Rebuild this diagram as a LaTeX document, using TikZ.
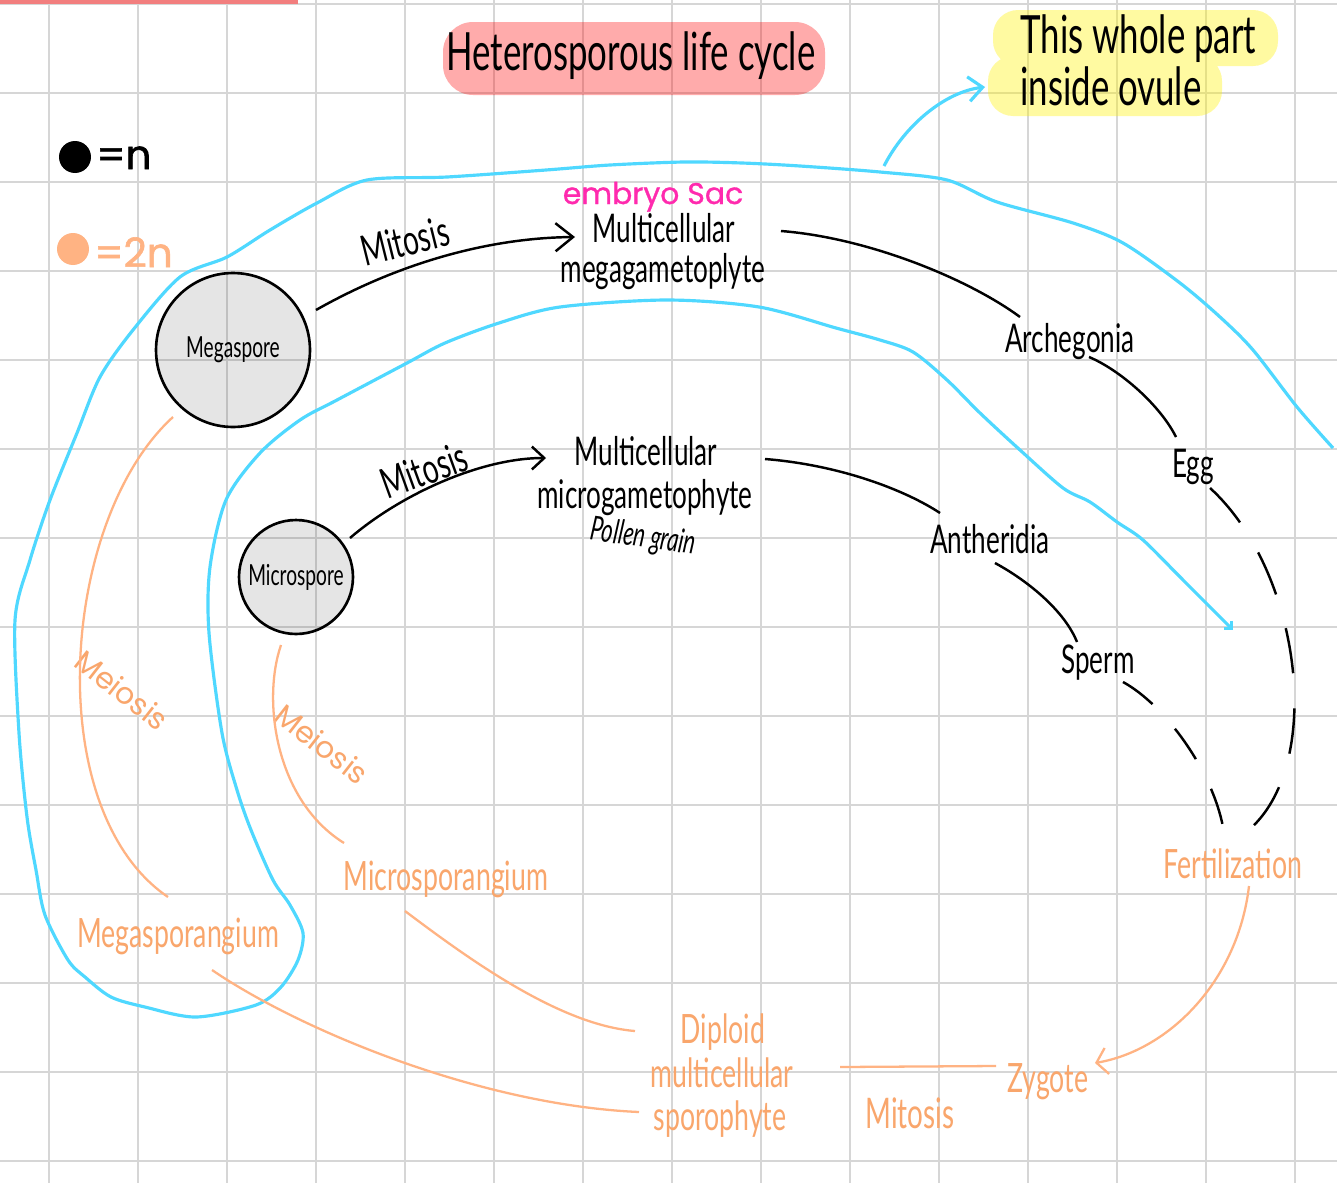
\documentclass[tikz,border=0pt]{standalone}
\usepackage{fontspec}
\setmainfont{Lato}[FakeStretch=0.66]
\newfontfamily\handfnt{Poppins}
\newfontfamily\markfnt{Poppins}[FakeBold=1.5]
\newfontfamily\sacfnt{Poppins}[FakeBold=1]
\usetikzlibrary{calc,arrows.meta}
\definecolor{gridgray}{HTML}{D6D6D6}
\definecolor{skyline}{HTML}{4FD8FF}
\definecolor{peach}{HTML}{FFB383}
\definecolor{peachtxt}{HTML}{F9A66C}
\definecolor{sacpink}{HTML}{FF2AAE}
\definecolor{edgered}{HTML}{F27E7E}
\newcommand\titlefnt{\fontsize{30}{34}\selectfont}
\newcommand\midfnt{\fontsize{22.5}{26}\selectfont}
\newcommand\sporefnt{\fontsize{16.5}{19}\selectfont}
\newcommand\orfnt{\fontsize{23}{26}\selectfont}
\newcommand\meifnt{\handfnt\fontsize{17}{20}\selectfont}
\tikzset{>={Straight Barb[length=10pt,width=16pt]}}
\tikzset{
  gridline/.style={draw=gridgray, line width=1.6pt},
  spore/.style={circle, draw, line width=1.5pt, fill=black, fill opacity=0.1,
                text opacity=1, font=\sporefnt, inner sep=0pt},
  lbl/.style={font=\midfnt, inner sep=0pt, anchor=base},
  olbl/.style={font=\orfnt, text=peachtxt, inner sep=0pt, anchor=base},
  blk/.style={line width=1.4pt},
  orn/.style={draw=peach, line width=1.3pt},
  blu/.style={draw=skyline, line width=1.8pt},
  gapline/.style={dash pattern=on 26pt off 20pt},
}

\begin{document}
\begin{tikzpicture}[x=0.02cm,y=-0.02cm]
  \fill[white] (0,0) rectangle (1337,1183);
  \useasboundingbox (0,0) rectangle (1337,1183);
  % 方格纸
  \foreach \gx in {49,138,...,1295}
    \draw[gridline] (\gx,0) -- (\gx,1183);
  \foreach \gy in {4,93,...,1161}
    \draw[gridline] (0,\gy) -- (1337,\gy);
  \draw[edgered, line width=2.3pt] (0,2) -- (296,2) -- (296,-5);

  % 高亮底色
  \fill[red, fill opacity=0.33, rounded corners=0.6cm] (443,22) rectangle (825,95);
  \fill[yellow, fill opacity=0.37, rounded corners=0.5cm]
       (993,10) rectangle (1278,66) (988,56) rectangle (1222,116);

  % 蓝色圈线 (胚珠内部)
  \draw[blu, -{Straight Barb[length=3pt,width=6pt]}] plot[smooth, tension=0.5] coordinates {
    (1333,448) (1297,407) (1253,350) (1220,317) (1180,283) (1123,243) (1073,223)
    (997,202) (947,180) (880,172) (800,166) (742,163) (684,162) (610,165) (546,170)
    (447,177) (367,180) (317,203) (270,230) (227,257) (180,277) (133,330) (100,377)
    (77,433) (50,500) (30,560) (15,620) (19,733) (27,817) (36,870) (45,915)
    (68,960) (85,977) (111,997) (145,1007) (196,1017) (256,1005) (281,987)
    (298,960) (303,933) (290,905) (273,880) (251,830) (237,790) (222,733)
    (209,633) (210,567) (226,500) (260,453) (300,420) (337,400) (407,363)
    (445,343) (499,323) (560,307) (667,300) (759,307) (836,328) (880,340)
    (913,352) (947,380) (980,413) (1020,450) (1063,488) (1090,502) (1117,522)
    (1143,540) (1183,580) (1233,630)};
  \coordinate (looptop) at (884,166);

  % 文字
  \node[font=\titlefnt, inner sep=0pt, anchor=base] (title) at (631,70) {Heterosporous life cycle};
  \node[font=\titlefnt, inner sep=0pt, anchor=base west] (ovuleA) at (1020,53) {This whole part};
  \node[font=\titlefnt, inner sep=0pt, anchor=base west] (ovuleB) at (1020,105) {inside ovule};

  \node[circle, fill, minimum size=0.64cm, inner sep=0pt] (ndot) at (75,157) {};
  \node[font=\markfnt\fontsize{23}{26}\selectfont, inner sep=0pt, anchor=base west] (nkey) at (96,169) {=n};
  \node[circle, fill=peach, minimum size=0.64cm, inner sep=0pt] (dndot) at (73,249) {};
  \node[font=\markfnt\fontsize{23}{26}\selectfont, text=peach, inner sep=0pt, anchor=base west] (dnkey) at (94,267) {=2n};

  \node[spore, minimum size=3.08cm] (megaspore) at (233,350) {Megaspore};
  \node[spore, minimum size=2.28cm] (microspore) at (296,577) {Microspore};

  \node[font=\sacfnt\fontsize{17}{20}\selectfont, text=sacpink, inner sep=0pt, anchor=base] (sac) at (653,204) {embryo Sac};
  \node[lbl] (megagam) at (664,242) {Multicellular};
  \node[lbl] (megagamb) at (663,282) {megagametoplyte};
  \node[lbl] (archeg) at (1070,352) {Archegonia};
  \node[lbl] (egg) at (1193,477) {Egg};
  \node[lbl] (microgam) at (646,465) {Multicellular};
  \node[lbl] (microgamb) at (645,508) {microgametophyte};
  \node[font=\itshape\fontsize{19}{22}\selectfont, rotate=-8, inner sep=0pt] (pollen) at (643,538) {Pollen grain};
  \node[lbl] (antherid) at (990,553) {Antheridia};
  \node[lbl] (sperm) at (1098,673) {Sperm};
  \node[font=\fontsize{24}{28}\selectfont, rotate=14, inner sep=0pt] (mitA) at (405,241) {Mitosis};
  \node[font=\fontsize{24}{28}\selectfont, rotate=20, inner sep=0pt] (mitB) at (424,470) {Mitosis};

  \node[olbl] (fert) at (1233,878) {Fertilization};
  \node[olbl] (zygote) at (1048,1092) {Zygote};
  \node[olbl] (sporoA) at (723,1043) {Diploid};
  \node[olbl] (sporoB) at (722,1087) {multicellular};
  \node[olbl] (sporoC) at (720,1130) {sporophyte};
  \node[olbl, font=\fontsize{24}{28}\selectfont] (mitC) at (910,1128) {Mitosis};
  \node[olbl] (microsp) at (446,890) {Microsporangium};
  \node[olbl] (megasp) at (178,947) {Megasporangium};
  \node[font=\meifnt, text=peachtxt, rotate=-38, inner sep=0pt] (meiA) at (122,690) {Meiosis};
  \node[font=\meifnt, text=peachtxt, rotate=-38, inner sep=0pt] (meiB) at (322,744) {Meiosis};

  % 连线
  \draw[blu, -{Straight Barb[length=8pt,width=14pt]}] (looptop) .. controls +(21,-41) and +(-40,5) .. ($(ovuleA.base west)+(-35,34)$);
  \draw[blk,->] ($(megaspore.center)+(83,-40)$) .. controls +(74,-42) and +(-95,1) .. ($(megagam.base)+(-89,-5)$);
  \draw[blk] ($(megagam.base)+(117,-11)$) .. controls +(89,7) and +(-50,-37) .. ($(archeg.base)+(-50,-35)$);
  \draw[blk] ($(archeg.base)+(19,5)$) .. controls +(31,13) and +(-16,-32) .. ($(egg.base)+(-17,-40)$);
  \draw[blk,gapline] ($(egg.base)+(17,11)$) .. controls +(90,82) and +(74,-68) .. ($(fert.base)+(18,-50)$);
  \draw[blk,-{Straight Barb[length=7pt,width=13pt]}] ($(microspore.center)+(54,-39)$) .. controls +(50,-43) and +(-66,0) .. ($(microgam.base)+(-100,-7)$);
  \draw[blk] ($(microgam.base)+(119,-6)$) .. controls +(75,6) and +(-35,-23) .. ($(antherid.base)+(-50,-40)$);
  \draw[blk] ($(antherid.base)+(5,10)$) .. controls +(35,19) and +(-12,-30) .. ($(sperm.base)+(-21,-31)$);
  \draw[blk,dash pattern=on 21pt off 19pt] ($(sperm.base)+(25,9)$) .. controls +(42,23) and +(-11,-57) .. ($(fert.base)+(-10,-51)$);

  \draw[orn,-{Straight Barb[length=6pt,width=15pt]}] ($(fert.base)+(16,8)$) .. controls +(-11,94) and +(75,-13) .. ($(zygote.base)+(47,-29)$);
  \draw[orn] ($(zygote.base)+(-52,-26)$) -- ($(sporoB.base)+(118,-20)$);
  \draw[orn] ($(sporoA.base)+(-88,-12)$) .. controls +(-75,-6) and +(65,49) .. ($(microsp.base)+(-41,21)$);
  \draw[orn] ($(sporoC.base)+(-81,-18)$) .. controls +(-159,-7) and +(88,60) .. ($(megasp.base)+(34,23)$);
  \draw[orn] ($(microsp.base)+(-102,-47)$) .. controls +(-69,-43) and +(-19,55) .. ($(microspore.center)+(-15,68)$);
  \draw[orn] ($(megasp.base)+(-10,-50)$) .. controls +(-128,-87) and +(-113,103) .. ($(megaspore.center)+(-60,67)$);
\end{tikzpicture}
\end{document}
